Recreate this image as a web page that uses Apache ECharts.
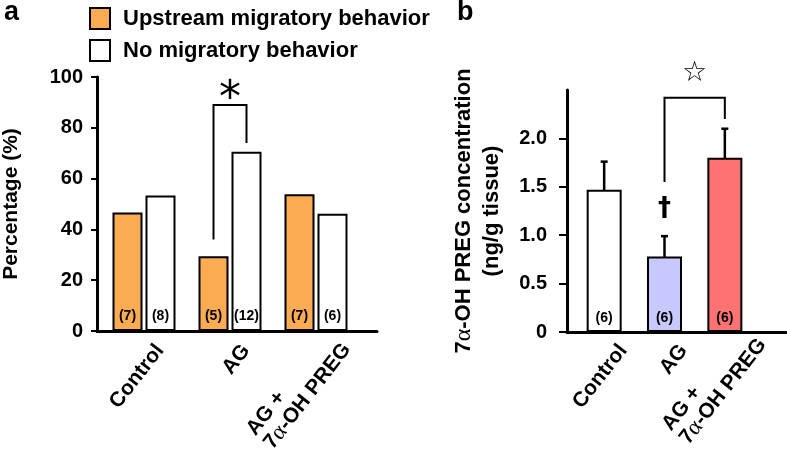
<!DOCTYPE html>
<html>
<head>
<meta charset="utf-8">
<script src="https://cdn.jsdelivr.net/npm/echarts@6/dist/echarts.min.js"></script>
<style>
  html, body { margin: 0; padding: 0; background: #fff; }
  #chart { width: 787px; height: 468px; }
</style>
</head>
<body>
<div id="chart"></div>
<script>
// panel a: behaviour percentages
const groups = ['Control', 'AG', 'AG+PREG']
const upstreamPct = [46.7, 29.4, 53.8]
const noMigrationPct = [53.3, 70.6, 46.2]
const upstreamN = [7, 5, 7]
const noMigrationN = [8, 12, 6]
const pctTicks = [0, 20, 40, 60, 80, 100]
// bracket a: category, left leg bottom, top, right leg bottom
const bracketA = [1, 36, 89, 74]

// panel b: 7a-OH PREG concentration
const concMean = [1.47, 0.78, 1.8]
const concErr = [0.29, 0.21, 0.3]
const concN = [6, 6, 6]
const concTicks = [0, 0.5, 1, 1.5, 2]
// bracket b: from category 1 to 2, left bottom, top, right bottom
const bracketB = [1, 2, 1.55, 2.42, 2.2]
const daggerAt = [1, 1.27]

const FONT = 'Liberation Sans, Arial, sans-serif'
const orange = '#FBAB52'
const barColorsB = ['#FFFFFF', '#C8C8FF', '#FF7272']
const barWA = 30
const gapA = 0.1

const labelRich = {
    t: { fontFamily: FONT, fontWeight: 'bold', fontSize: 21, color: '#000' },
    g: { fontFamily: 'Liberation Serif, serif', fontSize: 23, color: '#000' },
    l: { fontFamily: FONT, fontWeight: 'bold', fontSize: 21, color: '#000', align: 'left' }
}
const catLabel = (v) => {
    if (v === 'AG+PREG') return '{l|AG +}\n{t|7}{g|α}{t|-OH PREG}'
    return '{t|' + v + '}'
}
const catData = (shift) => groups.map((g) => g === 'AG+PREG'
    ? { value: g, textStyle: { padding: [0, -shift, 0, 0] } }
    : g)

const frameAxis = (gi) => ({
    gridIndex: gi, type: 'value', min: 0, max: 1,
    axisLine: { show: true, lineStyle: { color: '#000', width: 3 } },
    axisTick: { show: false }, axisLabel: { show: false }, splitLine: { show: false }
})
const hiddenCat = (gi) => ({ gridIndex: gi, type: 'category', data: groups, show: false })
const labelCat = (gi, shift, margin) => ({
    gridIndex: gi, type: 'category', data: catData(shift),
    axisLine: { show: false }, axisTick: { show: false }, splitLine: { show: false },
    axisLabel: { interval: 0, rotate: 52, margin: margin, formatter: catLabel, rich: labelRich, lineHeight: 22 }
})
const hiddenVal = (gi, max) => ({ gridIndex: gi, type: 'value', min: 0, max: max, show: false })

const option = {
    animation: false,
    textStyle: { fontFamily: FONT },
    title: [
        { text: 'a', left: 4, top: -1, padding: 0, textStyle: { fontFamily: FONT, fontSize: 27, fontWeight: 'bold', color: '#000' } },
        { text: 'b', left: 457, top: -1, padding: 0, textStyle: { fontFamily: FONT, fontSize: 27, fontWeight: 'bold', color: '#000' } }
    ],
    legend: {
        orient: 'vertical', left: 89, top: 7, padding: 0,
        data: ['Upstream migratory behavior', 'No migratory behavior'],
        itemWidth: 20, itemHeight: 21, itemGap: 9, icon: 'rect',
        itemStyle: { borderColor: '#000', borderWidth: 2 },
        textStyle: { fontFamily: FONT, fontSize: 22, fontWeight: 'bold', color: '#000', padding: [0, 0, 0, 8] }
    },
    grid: [
        { left: 87, top: 77, width: 290, height: 254 },
        { left: 101, top: 77, width: 258, height: 254 },
        { left: 117, top: 77, width: 258, height: 254 },
        { left: 567, top: 90, width: 219, height: 242 },
        { left: 574, top: 90, width: 181, height: 242 },
        { left: 593, top: 90, width: 181, height: 242 }
    ],
    xAxis: [frameAxis(0), hiddenCat(1), labelCat(2, 10, 16), frameAxis(3), hiddenCat(4), labelCat(5, 16, 15)],
    yAxis: [
        {
            gridIndex: 0, type: 'value', min: 0, max: 100, interval: 20,
            name: 'Percentage (%)', nameLocation: 'middle', nameGap: 75,
            nameTextStyle: { fontFamily: FONT, fontSize: 21, fontWeight: 'bold', color: '#000' },
            axisLine: { show: true, lineStyle: { color: '#000', width: 3 } },
            axisTick: { show: true, length: 6, lineStyle: { color: '#000', width: 2 }, customValues: pctTicks },
            axisLabel: { margin: 14, fontFamily: FONT, fontSize: 20, fontWeight: 'bold', color: '#000', customValues: pctTicks },
            splitLine: { show: false }
        },
        hiddenVal(1, 100),
        hiddenVal(2, 100),
        {
            gridIndex: 3, type: 'value', min: 0, max: 2.5, interval: 0.5,
            name: '{t|7}{g|α}{t|-OH PREG concentration}\n{t|(ng/g tissue)}',
            nameLocation: 'middle', nameGap: 61,
            nameTextStyle: {
                lineHeight: 28,
                rich: {
                    t: { fontFamily: FONT, fontSize: 22, fontWeight: 'bold', color: '#000', lineHeight: 28 },
                    g: { fontFamily: 'Liberation Serif, serif', fontSize: 24, color: '#000', lineHeight: 28 }
                }
            },
            axisLine: { show: true, lineStyle: { color: '#000', width: 3 } },
            axisTick: { show: true, length: 8, lineStyle: { color: '#000', width: 2 }, customValues: concTicks },
            axisLabel: {
                margin: 20, fontFamily: FONT, fontSize: 20, fontWeight: 'bold', color: '#000',
                customValues: concTicks,
                formatter: (v) => v === 0 ? '0' : v.toFixed(1)
            },
            splitLine: { show: false }
        },
        hiddenVal(4, 2.5),
        hiddenVal(5, 2.5)
    ],
    series: [
        {
            name: 'Upstream migratory behavior', type: 'bar', xAxisIndex: 1, yAxisIndex: 1,
            data: upstreamPct, barWidth: barWA, barGap: (gapA * 100) + '%',
            itemStyle: { color: orange, borderColor: '#000', borderWidth: 2 },
            label: {
                show: true, position: 'insideBottom', distance: 8,
                fontFamily: FONT, fontSize: 14, fontWeight: 'bold', color: '#000',
                formatter: (p) => '(' + upstreamN[p.dataIndex] + ')'
            }
        },
        {
            name: 'No migratory behavior', type: 'bar', xAxisIndex: 1, yAxisIndex: 1,
            data: noMigrationPct, barWidth: barWA,
            itemStyle: { color: '#fff', borderColor: '#000', borderWidth: 2 },
            label: {
                show: true, position: 'insideBottom', distance: 8,
                fontFamily: FONT, fontSize: 14, fontWeight: 'bold', color: '#000',
                formatter: (p) => '(' + noMigrationN[p.dataIndex] + ')'
            }
        },
        {
            type: 'custom', xAxisIndex: 1, yAxisIndex: 1, silent: true,
            data: [bracketA],
            renderItem: (params, api) => {
                const off = barWA * (1 + gapA) / 2
                const cx = api.coord([api.value(0), 0])[0]
                const yl = api.coord([0, api.value(1)])[1]
                const yt = api.coord([0, api.value(2)])[1]
                const yr = api.coord([0, api.value(3)])[1]
                const ys = api.coord([0, 95])[1]
                return {
                    type: 'group',
                    children: [
                        {
                            type: 'polyline',
                            shape: { points: [[cx - off, yl], [cx - off, yt], [cx + off, yt], [cx + off, yr]] },
                            style: { stroke: '#000', lineWidth: 2, fill: null }
                        },
                        {
                            type: 'text',
                            style: { text: '*', x: cx, y: ys + 11, align: 'center', verticalAlign: 'middle', fontFamily: 'DejaVu Sans', fontSize: 44, fill: '#000' }
                        }
                    ]
                }
            }
        },
        {
            name: 'conc', type: 'bar', xAxisIndex: 4, yAxisIndex: 4,
            data: concMean.map((v, i) => ({ value: v, itemStyle: { color: barColorsB[i] } })),
            barWidth: 35,
            itemStyle: { borderColor: '#000', borderWidth: 2 },
            label: {
                show: true, position: 'insideBottom', distance: 7,
                fontFamily: FONT, fontSize: 14, fontWeight: 'bold', color: '#000',
                formatter: (p) => '(' + concN[p.dataIndex] + ')'
            }
        },
        {
            type: 'custom', xAxisIndex: 4, yAxisIndex: 4, silent: true,
            data: concMean.map((v, i) => [i, v - concErr[i], v + concErr[i]]),
            renderItem: (params, api) => {
                const lo = api.coord([api.value(0), api.value(1)])
                const hi = api.coord([api.value(0), api.value(2)])
                const w = 3.5
                const st = { stroke: '#000', lineWidth: 2.5 }
                return {
                    type: 'group',
                    children: [
                        { type: 'line', shape: { x1: lo[0], y1: lo[1], x2: hi[0], y2: hi[1] }, style: st },
                        { type: 'line', shape: { x1: lo[0] - w, y1: lo[1], x2: lo[0] + w, y2: lo[1] }, style: st },
                        { type: 'line', shape: { x1: hi[0] - w, y1: hi[1], x2: hi[0] + w, y2: hi[1] }, style: st }
                    ]
                }
            }
        },
        {
            type: 'custom', xAxisIndex: 4, yAxisIndex: 4, silent: true,
            data: [bracketB],
            renderItem: (params, api) => {
                const xl = api.coord([api.value(0), 0])[0]
                const xr = api.coord([api.value(1), 0])[0]
                const yl = api.coord([0, api.value(2)])[1]
                const yt = api.coord([0, api.value(3)])[1]
                const yr = api.coord([0, api.value(4)])[1]
                const ys = api.coord([0, 2.67])[1]
                const d = api.coord(daggerAt)
                return {
                    type: 'group',
                    children: [
                        {
                            type: 'polyline',
                            shape: { points: [[xl, yl], [xl, yt], [xr, yt], [xr, yr]] },
                            style: { stroke: '#000', lineWidth: 2, fill: null }
                        },
                        {
                            type: 'text',
                            style: { text: '☆', x: (xl + xr) / 2, y: ys, align: 'center', verticalAlign: 'middle', fontFamily: 'DejaVu Sans', fontSize: 28, fill: '#000' }
                        },
                        {
                            type: 'text',
                            style: { text: '†', x: d[0], y: d[1], align: 'center', verticalAlign: 'middle', fontFamily: 'DejaVu Sans', fontWeight: 'bold', fontSize: 26, fill: '#000' }
                        }
                    ]
                }
            }
        }
    ]
}

const myChart = echarts.init(document.getElementById('chart'))
myChart.setOption(option)
</script>
</body>
</html>
